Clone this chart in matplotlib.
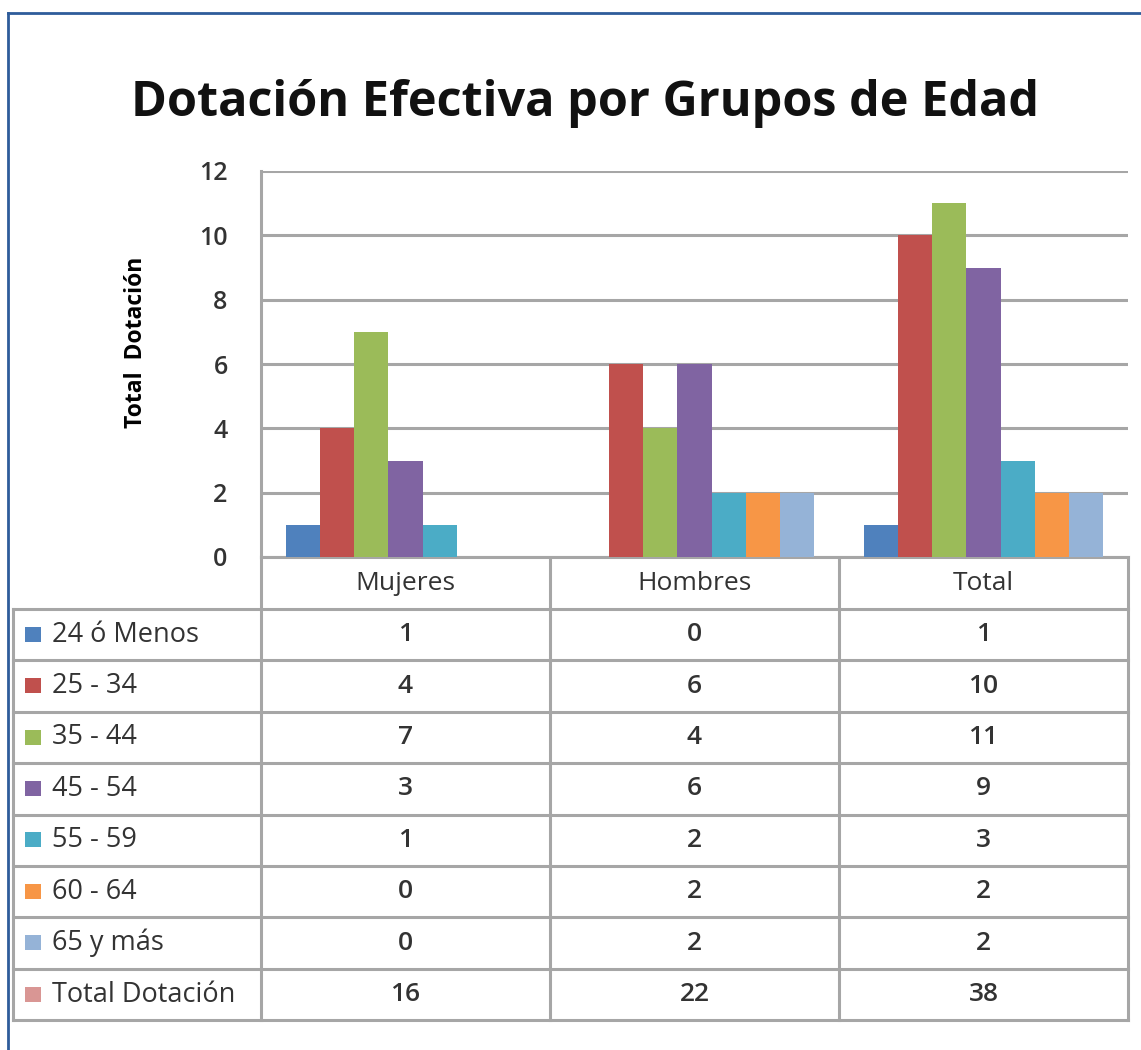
import matplotlib
matplotlib.use('Agg')
import matplotlib.pyplot as plt
import matplotlib.transforms as mtransforms
from matplotlib.patches import Rectangle
import numpy as np

plt.rcParams['font.family'] = ['Open Sans', 'DejaVu Sans']

# data
groups = ['Mujeres', 'Hombres', 'Total']
age_groups = ['24 ó Menos', '25 - 34', '35 - 44', '45 - 54', '55 - 59', '60 - 64', '65 y más']
mujeres = [1, 4, 7, 3, 1, 0, 0]
hombres = [0, 6, 4, 6, 2, 2, 2]
total = [1, 10, 11, 9, 3, 2, 2]
total_label = 'Total Dotación'
total_dotacion = [16, 22, 38]
y_ticks = [0, 2, 4, 6, 8, 10, 12]

colors = ['#4F81BD', '#C0504D', '#9BBB59', '#8064A2', '#4BACC6', '#F79646', '#95B3D7']
total_color = '#D99694'
grid_color = '#A6A6A6'
text_color = '#333333'

W, H = 1141, 1050
fig = plt.figure(figsize=(W / 100, H / 100), dpi=100)

# overlay in pixel coordinates for the table and frame
ov = fig.add_axes([0, 0, 1, 1])
ov.set_xlim(0, W)
ov.set_ylim(H, 0)
ov.axis('off')

# plot area: x 261..1128, y 171..557 (pixels)
left, right, top, bottom = 261, 1128, 171, 557
ax = fig.add_axes([left / W, 1 - bottom / H, (right - left) / W, (bottom - top) / H])
ax.set_zorder(2)

bar_w = 0.118
x = np.arange(len(groups))
for i, name in enumerate(age_groups):
    vals = [mujeres[i], hombres[i], total[i]]
    ax.bar(x + (i - 3) * bar_w, vals, width=bar_w, color=colors[i], zorder=3)

ax.set_xlim(-0.5, 2.5)
ax.set_ylim(0, 12)
ax.set_yticks(y_ticks)
ax.yaxis.grid(True, color=grid_color, linewidth=2.2, zorder=0)
ax.set_axisbelow(True)
ax.tick_params(axis='y', length=0, pad=24, labelsize=18, labelcolor=text_color)
for t in ax.get_yticklabels():
    t.set_fontweight('semibold')
ax.set_xticks(x)
ax.set_xticklabels(groups)
ax.tick_params(axis='x', length=0, pad=10, labelsize=19, labelcolor=text_color)
for s in ['top', 'right']:
    ax.spines[s].set_visible(False)
for s in ['left', 'bottom']:
    ax.spines[s].set_color(grid_color)
    ax.spines[s].set_linewidth(2.2)
ax.set_ylabel('Total  Dotación', fontsize=16.5, fontweight='bold', color='black')
ax.yaxis.set_label_coords(-0.130, 0.557)

fig.text(585 / W, 1 - 103 / H, 'Dotación Efectiva por Grupos de Edad', fontsize=35,
         fontweight='bold', color='#111111', ha='center', va='center')

# data table under the plot
tr = mtransforms.blended_transform_factory(ax.transData, ov.transData)
header_bottom = 609
row_h = 51.4
table_left = 13
rows = list(zip(age_groups, mujeres, hombres, total)) + [(total_label, *total_dotacion)]
row_colors = colors + [total_color]
n_rows = len(rows)
table_bottom = header_bottom + n_rows * row_h

lw = 2.2
ov.plot([right, right], [bottom, table_bottom], color=grid_color, lw=lw)
ov.plot([left, left], [bottom, table_bottom], color=grid_color, lw=lw)
ov.plot([table_left, table_left], [header_bottom, table_bottom], color=grid_color, lw=lw)
for xd in [0.5, 1.5]:
    ov.plot([xd, xd], [bottom, table_bottom], color=grid_color, lw=lw, transform=tr)
for r in range(n_rows + 1):
    yy = header_bottom + r * row_h
    ov.plot([table_left, right], [yy, yy], color=grid_color, lw=lw)

for r, row in enumerate(rows):
    yc = header_bottom + (r + 0.5) * row_h
    ov.add_patch(Rectangle((25, yc - 8), 16, 15, color=row_colors[r], lw=0))
    ov.text(52, yc, row[0], fontsize=19.5, color=text_color, va='center', ha='left')
    for j in range(3):
        ov.text(j, yc, str(row[j + 1]), fontsize=19, color=text_color,
                va='center', ha='center', transform=tr, fontweight='semibold')

# outer frame (top and left edges)
ov.plot([8, W], [13, 13], color='#2E5C9A', lw=2)
ov.plot([8, 8], [13, H], color='#2E5C9A', lw=2)

fig.savefig('out.png', dpi=100)
